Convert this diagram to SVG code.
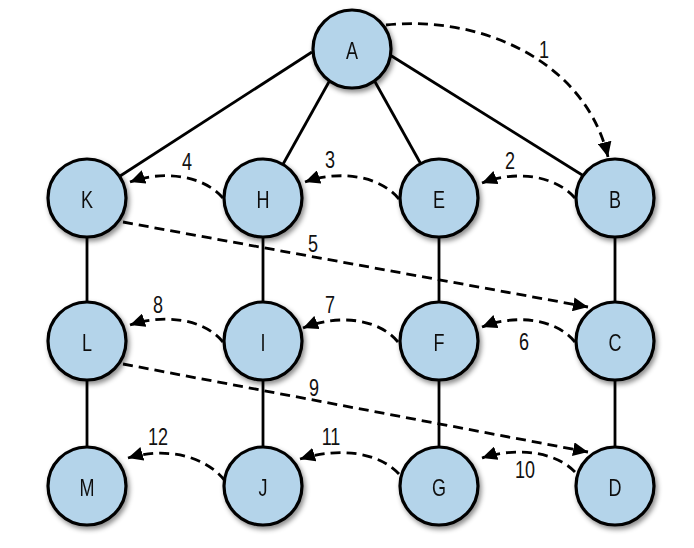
<svg xmlns="http://www.w3.org/2000/svg" width="694" height="548" viewBox="0 0 694 548">
<style>
.n circle{fill:#b4d4ea;stroke:#000;stroke-width:3.2}
.n text,.lbl{font-family:"Liberation Sans",Arial,sans-serif;font-size:24px;fill:#111;text-anchor:middle}
.e{stroke:#000;stroke-width:2.8;fill:none}
.d{stroke:#000;stroke-width:2.8;fill:none;stroke-dasharray:10 6;marker-end:url(#ah)}
</style>
<defs>
<marker id="ah" markerUnits="userSpaceOnUse" markerWidth="16" markerHeight="14" refX="15" refY="7" orient="auto">
<path d="M0,0 L15,7 L0,14 Z" fill="#000"/>
</marker>
<filter id="sh" x="-30%" y="-30%" width="160%" height="160%">
<feDropShadow dx="2" dy="3" stdDeviation="2.5" flood-color="#000" flood-opacity="0.45"/>
</filter>
</defs>
<rect width="694" height="548" fill="#fff"/>
<g id="connectors">
<line class="e" x1="312" y1="52" x2="100" y2="189"/>
<line class="e" x1="330" y1="80" x2="277" y2="175"/>
<line class="e" x1="374" y1="80" x2="427" y2="175"/>
<line class="e" x1="390" y1="55" x2="595" y2="183"/>
<line class="e" x1="87" y1="198" x2="87" y2="341"/>
<line class="e" x1="263" y1="198" x2="263" y2="341"/>
<line class="e" x1="439" y1="198" x2="439" y2="341"/>
<line class="e" x1="615" y1="198" x2="615" y2="341"/>
<line class="e" x1="87" y1="341" x2="87" y2="486"/>
<line class="e" x1="263" y1="341" x2="263" y2="486"/>
<line class="e" x1="439" y1="341" x2="439" y2="486"/>
<line class="e" x1="615" y1="341" x2="615" y2="486"/>
<path class="d" d="M386,25 C480,15 585,60 608,157"/>
<path class="d" d="M575,198 C555,175 515,170 482,183"/>
<path class="d" d="M399,199 C379,175 339,170 305,182"/>
<path class="d" d="M223,198 C203,175 163,170 130,182"/>
<path class="d" d="M123,222 L588,307"/>
<path class="d" d="M575,342 C555,318 515,314 482,327"/>
<path class="d" d="M398,342 C378,318 338,314 303,328"/>
<path class="d" d="M223,342 C203,318 163,314 130,325"/>
<path class="d" d="M123,364 L588,452"/>
<path class="d" d="M575,472 C555,451 515,447 482,458"/>
<path class="d" d="M399,474 C379,452 339,447 300,459"/>
<path class="d" d="M225,481 C205,455 165,447 128,458"/>
</g>
<g id="labels">
<text class="lbl" transform="translate(544,58) scale(0.75,1)">1</text>
<text class="lbl" transform="translate(510,169) scale(0.75,1)">2</text>
<text class="lbl" transform="translate(330,168) scale(0.75,1)">3</text>
<text class="lbl" transform="translate(187,170) scale(0.75,1)">4</text>
<text class="lbl" transform="translate(313,252) scale(0.75,1)">5</text>
<text class="lbl" transform="translate(524,350) scale(0.75,1)">6</text>
<text class="lbl" transform="translate(330,313) scale(0.75,1)">7</text>
<text class="lbl" transform="translate(158,313) scale(0.75,1)">8</text>
<text class="lbl" transform="translate(314,396) scale(0.75,1)">9</text>
<text class="lbl" transform="translate(525,478) scale(0.75,1)">10</text>
<text class="lbl" transform="translate(331,445) scale(0.75,1)">11</text>
<text class="lbl" transform="translate(158,445) scale(0.75,1)">12</text>
</g>
<g id="A" class="n" filter="url(#sh)"><circle cx="352" cy="49" r="39"/><text transform="translate(352,59) scale(0.75,1)">A</text></g>
<g id="K" class="n" filter="url(#sh)"><circle cx="87" cy="198" r="39"/><text transform="translate(87,208) scale(0.75,1)">K</text></g>
<g id="H" class="n" filter="url(#sh)"><circle cx="263" cy="198" r="39"/><text transform="translate(263,208) scale(0.75,1)">H</text></g>
<g id="E" class="n" filter="url(#sh)"><circle cx="439" cy="198" r="39"/><text transform="translate(439,208) scale(0.75,1)">E</text></g>
<g id="B" class="n" filter="url(#sh)"><circle cx="615" cy="198" r="39"/><text transform="translate(615,208) scale(0.75,1)">B</text></g>
<g id="L" class="n" filter="url(#sh)"><circle cx="87" cy="341" r="39"/><text transform="translate(87,351) scale(0.75,1)">L</text></g>
<g id="I" class="n" filter="url(#sh)"><circle cx="263" cy="341" r="39"/><text transform="translate(263,351) scale(0.75,1)">I</text></g>
<g id="F" class="n" filter="url(#sh)"><circle cx="439" cy="341" r="39"/><text transform="translate(439,351) scale(0.75,1)">F</text></g>
<g id="C" class="n" filter="url(#sh)"><circle cx="615" cy="341" r="39"/><text transform="translate(615,351) scale(0.75,1)">C</text></g>
<g id="M" class="n" filter="url(#sh)"><circle cx="87" cy="486" r="39"/><text transform="translate(87,496) scale(0.75,1)">M</text></g>
<g id="J" class="n" filter="url(#sh)"><circle cx="263" cy="486" r="39"/><text transform="translate(263,496) scale(0.75,1)">J</text></g>
<g id="G" class="n" filter="url(#sh)"><circle cx="439" cy="486" r="39"/><text transform="translate(439,496) scale(0.75,1)">G</text></g>
<g id="D" class="n" filter="url(#sh)"><circle cx="615" cy="486" r="39"/><text transform="translate(615,496) scale(0.75,1)">D</text></g>
</svg>
